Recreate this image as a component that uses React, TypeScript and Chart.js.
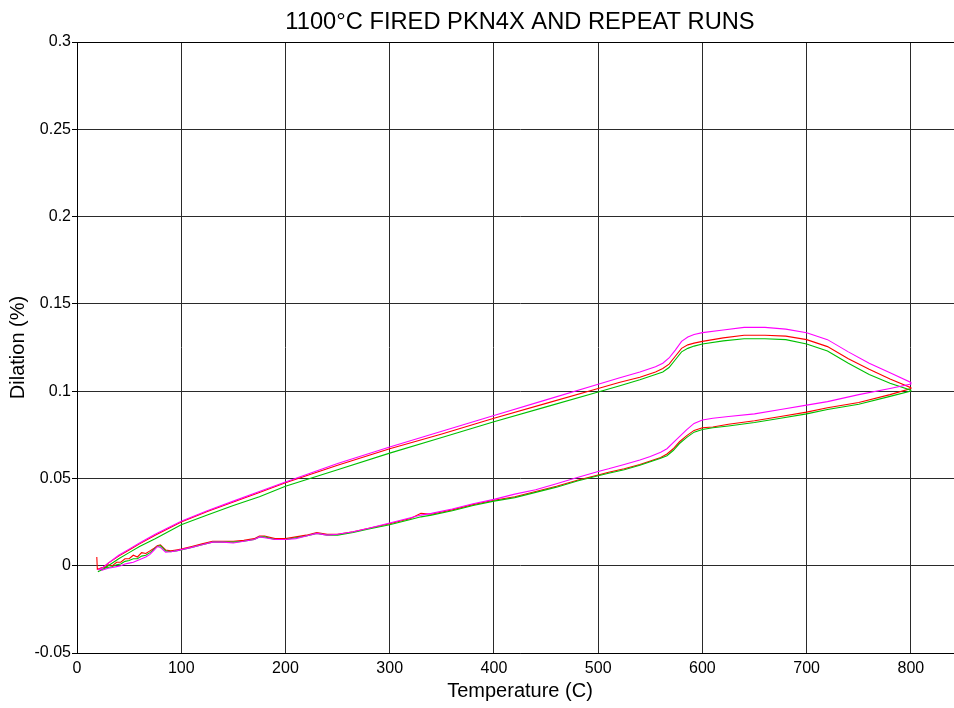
import React, { useEffect, useRef } from "react";
import { Chart, registerables } from "chart.js";

Chart.register(...registerables);

// ---------- text ----------
const TITLE = "1100°C FIRED PKN4X AND REPEAT RUNS";
const X_LABEL = "Temperature (C)";
const Y_LABEL = "Dilation (%)";

// ---------- axes ----------
const X_MIN = 0;
const X_MAX = 850;
const Y_MIN = -0.05;
const Y_MAX = 0.3;
const X_TICKS = [0, 100, 200, 300, 400, 500, 600, 700, 800];
const Y_TICKS = [-0.05, 0, 0.05, 0.1, 0.15, 0.2, 0.25, 0.3];

// ---------- heating branch (upper curve), temperature in C ----------
const heatT = [20, 25, 30, 40, 50, 60, 75, 100, 125, 150, 175, 200, 250, 300, 350, 400, 450, 500, 520, 540, 555, 562, 568, 574, 580, 586, 592, 600, 620, 640, 660, 680, 700, 720, 740, 760, 780, 800];
const heatMagenta = [-0.0025, -0.001, 0.0015, 0.006, 0.0095, 0.013, 0.018, 0.0255, 0.0315, 0.037, 0.0425, 0.048, 0.0585, 0.068, 0.077, 0.086, 0.095, 0.104, 0.1075, 0.111, 0.114, 0.116, 0.119, 0.1235, 0.1285, 0.131, 0.1325, 0.1335, 0.135, 0.1365, 0.1365, 0.1355, 0.1335, 0.1295, 0.1225, 0.116, 0.1105, 0.105];
const heatRed = [-0.002, -0.001, 0.0015, 0.0055, 0.009, 0.0125, 0.0175, 0.025, 0.031, 0.0365, 0.042, 0.0475, 0.0575, 0.067, 0.0755, 0.0845, 0.093, 0.1015, 0.105, 0.108, 0.111, 0.113, 0.1155, 0.12, 0.1245, 0.1265, 0.1275, 0.1285, 0.1305, 0.132, 0.132, 0.1315, 0.1295, 0.1255, 0.1185, 0.1125, 0.107, 0.102];
const heatGreen = [-0.0035, -0.002, 0.0, 0.004, 0.0075, 0.011, 0.0155, 0.0235, 0.029, 0.0345, 0.0395, 0.0455, 0.055, 0.0645, 0.0735, 0.0825, 0.091, 0.0995, 0.103, 0.1065, 0.1095, 0.111, 0.1135, 0.118, 0.1225, 0.1245, 0.1258, 0.127, 0.1288, 0.13, 0.13, 0.1295, 0.127, 0.123, 0.116, 0.1095, 0.1045, 0.1005];

// red run starts with a small spike at ~19 C
const redStartT = [19, 19.5];
const redStartV = [0.005, -0.002];

// ---------- cooling branch (lower curve) ----------
const coolT = [800, 780, 750, 720, 700, 675, 650, 625, 610, 600, 592, 585, 578, 572, 566, 560, 550, 540, 525, 510, 500, 480, 460, 440, 420, 400, 380, 360, 340, 330, 320, 300, 280, 265, 250, 240, 230, 220, 210, 200, 190, 180, 175, 170, 160, 150, 140, 130, 120, 110, 100, 95, 90, 85, 80, 77, 74, 70, 66, 62, 58, 54, 50, 46, 42, 38, 34, 30, 27, 24, 22];
const coolMagenta = [0.104, 0.1015, 0.098, 0.094, 0.092, 0.0895, 0.087, 0.0855, 0.0845, 0.0835, 0.0815, 0.078, 0.074, 0.0705, 0.067, 0.065, 0.0625, 0.0605, 0.058, 0.0555, 0.054, 0.0505, 0.047, 0.0435, 0.041, 0.038, 0.0355, 0.0325, 0.03, 0.029, 0.0275, 0.0245, 0.0215, 0.0195, 0.018, 0.0175, 0.0185, 0.017, 0.0155, 0.015, 0.015, 0.016, 0.0165, 0.015, 0.014, 0.013, 0.0135, 0.0135, 0.012, 0.0105, 0.0092, 0.0085, 0.008, 0.0078, 0.0105, 0.011, 0.009, 0.0065, 0.005, 0.004, 0.003, 0.002, 0.0015, 0.001, 0.0, -0.0005, -0.001, -0.0015, -0.002, -0.0025, -0.002];
const coolRed = [0.1015, 0.098, 0.0935, 0.0905, 0.088, 0.0855, 0.083, 0.081, 0.0795, 0.079, 0.0775, 0.0745, 0.071, 0.067, 0.064, 0.062, 0.06, 0.058, 0.0555, 0.0535, 0.052, 0.049, 0.0455, 0.0425, 0.0395, 0.0375, 0.035, 0.032, 0.0295, 0.03, 0.027, 0.024, 0.0215, 0.0195, 0.018, 0.018, 0.019, 0.0175, 0.0165, 0.0155, 0.0155, 0.017, 0.017, 0.0155, 0.0145, 0.014, 0.014, 0.014, 0.0125, 0.011, 0.0095, 0.009, 0.0085, 0.009, 0.012, 0.0115, 0.01, 0.0085, 0.007, 0.0075, 0.005, 0.006, 0.004, 0.004, 0.002, 0.002, 0.0, 0.0005, -0.001, -0.001, -0.0015];
const coolGreen = [0.1, 0.097, 0.0925, 0.0895, 0.087, 0.0845, 0.082, 0.08, 0.079, 0.078, 0.0765, 0.0735, 0.07, 0.066, 0.063, 0.0615, 0.0595, 0.0575, 0.055, 0.053, 0.0515, 0.0485, 0.045, 0.042, 0.039, 0.037, 0.0345, 0.0315, 0.029, 0.028, 0.0265, 0.0235, 0.021, 0.019, 0.0175, 0.0175, 0.0185, 0.017, 0.016, 0.015, 0.015, 0.0165, 0.0165, 0.015, 0.014, 0.0135, 0.0135, 0.0135, 0.012, 0.0105, 0.009, 0.0085, 0.008, 0.0085, 0.0115, 0.011, 0.0095, 0.0075, 0.006, 0.0055, 0.004, 0.004, 0.003, 0.0025, 0.001, 0.0005, -0.0005, -0.001, -0.0015, -0.002, -0.0025];

const FONT = '"Liberation Sans", Arial, Helvetica, sans-serif';
const GRID = "#2a2a2a";

function pts(ts: number[], vs: number[]) {
  return ts.map((t, i) => ({ x: t, y: vs[i] }));
}

const titlePlugin = {
  id: "matlabTitle",
  afterDraw(chart: any) {
    const { ctx, chartArea } = chart;
    ctx.save();
    ctx.font = `23.7px ${FONT}`;
    ctx.fillStyle = "#000";
    ctx.textAlign = "center";
    ctx.textBaseline = "alphabetic";
    ctx.fillText(TITLE, (chartArea.left + chartArea.right) / 2, 29);
    // box top line
    ctx.strokeStyle = "#000";
    ctx.lineWidth = 1;
    ctx.beginPath();
    ctx.moveTo(chartArea.left, Math.round(chartArea.top) + 0.5);
    ctx.lineTo(chartArea.right, Math.round(chartArea.top) + 0.5);
    ctx.stroke();
    ctx.restore();
  },
};

export default function App() {
  const ref = useRef<HTMLCanvasElement | null>(null);

  useEffect(() => {
    if (!ref.current) return;
    const mk = (label: string, color: string, data: any[], order: number) => ({
      label,
      data,
      borderColor: color,
      backgroundColor: color,
      borderWidth: 1.1,
      pointRadius: 0,
      tension: 0,
      fill: false,
      order,
    });
    const chart = new Chart(ref.current, {
      type: "line",
      data: {
        datasets: [
          mk("Run 1", "#ff0000", [...pts(redStartT, redStartV), ...pts(heatT, heatRed), ...pts(coolT, coolRed)], 3),
          mk("Run 2", "#00c000", [...pts(heatT, heatGreen), ...pts(coolT, coolGreen)], 2),
          mk("Run 3", "#ff00ff", [...pts(heatT, heatMagenta), ...pts(coolT, coolMagenta)], 1),
        ],
      },
      options: {
        responsive: false,
        animation: false,
        layout: { padding: { top: 42, right: 17, left: 0, bottom: 0 } },
        plugins: {
          legend: { display: false },
          tooltip: { enabled: false },
          title: { display: false },
        },
        scales: {
          x: {
            type: "linear",
            min: X_MIN,
            max: X_MAX,
            afterBuildTicks: (s: any) => {
              s.ticks = X_TICKS.map((v) => ({ value: v }));
            },
            afterFit: (s: any) => {
              s.height = 55;
            },
            ticks: {
              color: "#000",
              font: { family: FONT, size: 16 },
              padding: 1,
              maxRotation: 0,
              autoSkip: false,
              callback: (v: any) => String(v),
            },
            grid: {
              color: GRID,
              lineWidth: 1,
              drawTicks: true,
              tickLength: 5,
              tickColor: "rgba(0,0,0,0)",
            },
            border: { display: true, color: "#000", width: 1 },
            title: {
              display: true,
              text: X_LABEL,
              color: "#000",
              font: { family: FONT, size: 20 },
              padding: { top: 0, bottom: 5 },
            },
          },
          y: {
            type: "linear",
            min: Y_MIN,
            max: Y_MAX,
            afterBuildTicks: (s: any) => {
              s.ticks = Y_TICKS.map((v) => ({ value: v }));
            },
            afterFit: (s: any) => {
              s.width = 77;
            },
            ticks: {
              color: "#000",
              font: { family: FONT, size: 16 },
              padding: 1,
              autoSkip: false,
              callback: (v: any) => String(Number(Number(v).toFixed(2))),
            },
            grid: {
              color: GRID,
              lineWidth: 1,
              drawTicks: true,
              tickLength: 5,
              tickColor: "#000",
            },
            border: { display: true, color: "#000", width: 1 },
            title: {
              display: true,
              text: Y_LABEL,
              color: "#000",
              font: { family: FONT, size: 20 },
              padding: { top: 6, bottom: 0 },
            },
          },
        },
      },
      plugins: [titlePlugin],
    } as any);
    return () => chart.destroy();
  }, []);

  return (
    <div
      style={{
        position: "fixed",
        left: 0,
        top: 0,
        width: 954,
        height: 708,
        overflow: "hidden",
        background: "#fff",
      }}
    >
      <canvas ref={ref} width={980} height={708} style={{ display: "block", width: 980, height: 708 }} />
    </div>
  );
}
